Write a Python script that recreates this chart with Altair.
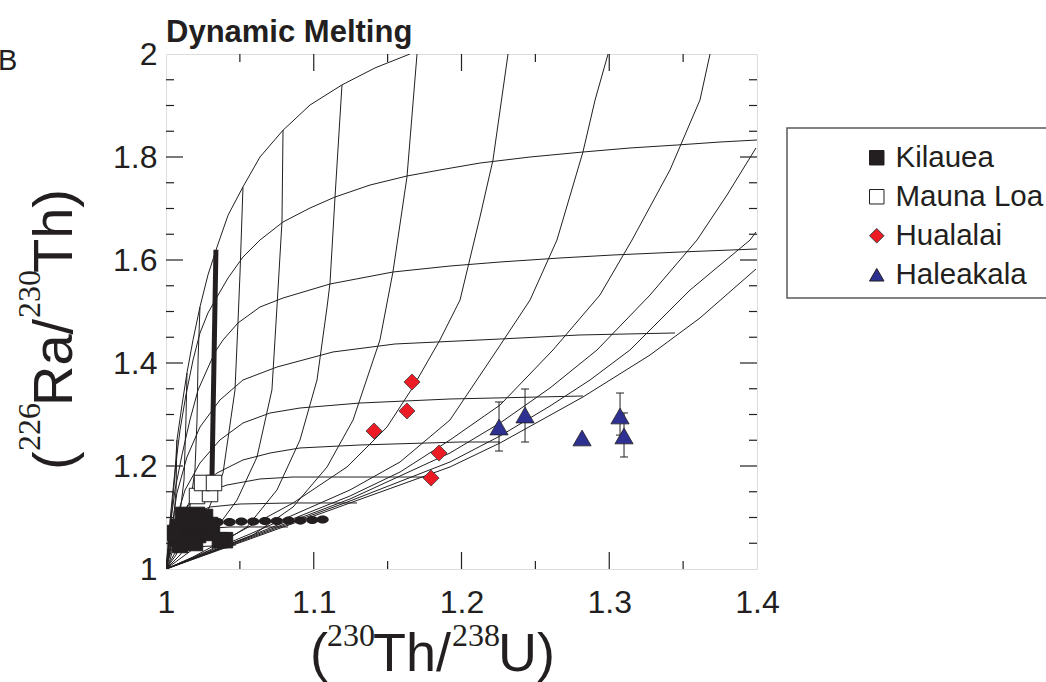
import altair as alt
import pandas as pd

# ---------------- data ----------------
# model grid: "horizontal" family (h) and "vertical" family (v); (230Th/238U, 226Ra/230Th)
h1 = [(1.000, 1.000), (1.0014, 1.027), (1.0027, 1.076), (1.0041, 1.120), (1.0061, 1.183), (1.0074, 1.250),
      (1.0108, 1.318), (1.0142, 1.381), (1.0183, 1.445), (1.0230, 1.509), (1.0284, 1.571), (1.0345, 1.625),
      (1.0420, 1.687), (1.0521, 1.742), (1.0636, 1.800), (1.0792, 1.852), (1.0975, 1.901), (1.1191, 1.940),
      (1.1415, 1.973), (1.1651, 2.000)]
h2 = [(1, 1), (1.0014, 1.0466), (1.0034, 1.1146), (1.0061, 1.1922), (1.0095, 1.2699), (1.0135, 1.3379),
      (1.0183, 1.4058), (1.0230, 1.4583), (1.0284, 1.4971), (1.0345, 1.5282), (1.0420, 1.5650), (1.0521, 1.6058),
      (1.0636, 1.6388), (1.0792, 1.6738), (1.0975, 1.7010), (1.1144, 1.7223), (1.1381, 1.7456), (1.1631, 1.7631),
      (1.1854, 1.7748), (1.2125, 1.7883), (1.2464, 1.8000), (1.2822, 1.8097), (1.3140, 1.8175), (1.3459, 1.8233),
      (1.3750, 1.8291), (1.4, 1.8330)]
h3 = [(1, 1), (1.0014, 1.0408), (1.0034, 1.0951), (1.0061, 1.1534), (1.0108, 1.2214), (1.0162, 1.2893),
      (1.0217, 1.3476), (1.0277, 1.3864), (1.0332, 1.4214), (1.0386, 1.4447), (1.0487, 1.4777), (1.0636, 1.5087),
      (1.0792, 1.5262), (1.1110, 1.5534), (1.1536, 1.5767), (1.1922, 1.5883), (1.2261, 1.5961), (1.2667, 1.6039),
      (1.3025, 1.6097), (1.3479, 1.6155), (1.4, 1.6214)]
h4 = [(1, 1), (1.0027, 1.0563), (1.0074, 1.1476), (1.0142, 1.2175), (1.0230, 1.2757), (1.0365, 1.3282),
      (1.0521, 1.3670), (1.0751, 1.3922), (1.1130, 1.4214), (1.1550, 1.4369), (1.2261, 1.4466), (1.2802, 1.4544),
      (1.3445, 1.4583)]
h5 = [(1, 1), (1.0027, 1.0369), (1.0061, 1.0893), (1.0129, 1.1534), (1.0230, 1.2058), (1.0365, 1.2505),
      (1.0521, 1.2835), (1.0704, 1.3029), (1.0907, 1.3126), (1.1313, 1.3223), (1.1922, 1.3301), (1.2822, 1.3359)]
h6 = [(1, 1), (1.0047, 1.0563), (1.0115, 1.1087), (1.0210, 1.1534), (1.0345, 1.1864), (1.0521, 1.2117),
      (1.0704, 1.2252), (1.0907, 1.2350), (1.1313, 1.2408), (1.1990, 1.2466), (1.2261, 1.2466)]
h7 = [(1, 1), (1.0027, 1.0427), (1.0074, 1.0893), (1.0142, 1.1204), (1.0250, 1.1476), (1.0413, 1.1631),
      (1.0636, 1.1748), (1.0860, 1.1786), (1.1313, 1.1786), (1.1766, 1.1786)]
h8 = [(1, 1), (1.0027, 1.0408), (1.0074, 1.0757), (1.0162, 1.1049), (1.0298, 1.1204), (1.0501, 1.1262),
      (1.0839, 1.1282), (1.1293, 1.1282)]
h9 = [(1, 1), (1.0041, 1.0408), (1.0108, 1.0660), (1.0230, 1.0777), (1.0433, 1.0816), (1.0826, 1.0816)]
h10 = [(1, 1), (1.0061, 1.0311), (1.0162, 1.0427), (1.0474, 1.0466)]

v10 = [(1, 1), (1.0569, 1.0583), (1.1245, 1.1282), (1.1922, 1.1981), (1.2261, 1.2447), (1.2822, 1.3340),
       (1.3276, 1.4155), (1.3614, 1.4874), (1.3993, 1.5825)]
v9 = [(1, 1), (1.0569, 1.0602), (1.1245, 1.1320), (1.1922, 1.2078), (1.2261, 1.2583), (1.2599, 1.3165),
      (1.2870, 1.3670), (1.3140, 1.4252), (1.3547, 1.5417), (1.3953, 1.6388), (1.3993, 1.6544)]
v8 = [(1, 1), (1.0569, 1.0621), (1.1245, 1.1359), (1.1922, 1.2252), (1.2261, 1.2835), (1.2599, 1.3515),
      (1.2917, 1.4252), (1.3276, 1.5320), (1.3594, 1.6388), (1.3797, 1.7262), (1.3993, 1.8175)]
v7 = [(1, 1), (1.0569, 1.0641), (1.1245, 1.1417), (1.1584, 1.1883), (1.1922, 1.2505), (1.2261, 1.3184),
      (1.2619, 1.4252), (1.2937, 1.5320), (1.3154, 1.6388), (1.3411, 1.7748), (1.3614, 1.9107), (1.3682, 2.0)]
v6 = [(1, 1), (1.0569, 1.0680), (1.0907, 1.1107), (1.1245, 1.1534), (1.1584, 1.2078), (1.1922, 1.2893),
      (1.2240, 1.4252), (1.2464, 1.5223), (1.2646, 1.6388), (1.2822, 1.8097), (1.2904, 1.9107), (1.2992, 2.0)]
v5 = [(1, 1), (1.0183, 1.0233), (1.0521, 1.0757), (1.0860, 1.1282), (1.1225, 1.1981), (1.1496, 1.2757),
      (1.1672, 1.3534), (1.1854, 1.4447), (1.1990, 1.5223), (1.2125, 1.6835), (1.2213, 1.7942), (1.2315, 2.0)]
v4 = [(1.1699, 2.0), (1.1631, 1.7612), (1.1536, 1.5767), (1.1448, 1.4447), (1.1266, 1.2893), (1.1090, 1.1981),
      (1.0860, 1.1204), (1.0589, 1.0660), (1.0298, 1.0330), (1, 1)]
v3 = [(1.1191, 1.9398), (1.1144, 1.7223), (1.1110, 1.5553), (1.1090, 1.5087), (1.1022, 1.3670), (1.0907, 1.2505),
      (1.0751, 1.1534), (1.0548, 1.0816), (1.0298, 1.0369), (1, 1)]
v2 = [(1.0792, 1.8524), (1.0785, 1.6738), (1.0751, 1.5087), (1.0717, 1.3476), (1.0616, 1.2175), (1.0481, 1.1340),
      (1.0298, 1.0621), (1.0129, 1.0272), (1, 1)]
v1 = [(1.0521, 1.7417), (1.0501, 1.5748), (1.0487, 1.4777), (1.0467, 1.3476), (1.0386, 1.1864), (1.0250, 1.0893),
      (1.0095, 1.0272), (1, 1)]
v0 = [(1.0230, 1.5087), (1.0217, 1.4058), (1.0210, 1.2893), (1.0196, 1.1922), (1.0149, 1.0951), (1.0068, 1.0272),
      (1, 1)]
vm1 = [(1.0142, 1.3806), (1.0135, 1.2893), (1.0122, 1.1728), (1.0081, 1.0757), (1.0027, 1.0175), (1, 1)]
vm2 = [(1.0074, 1.2505), (1.0068, 1.1534), (1.0047, 1.0757), (1.0014, 1.0175), (1, 1)]

# Kilauea
kil_x = [1.0115, 1.0210, 1.0162, 1.0264, 1.0081, 1.0176, 1.0271, 1.0066, 1.0129, 1.0217, 1.0311, 1.0399,
         1.0365, 1.0095, 1.0196, 1.0062, 1.0230, 1.0298]
kil_y = [1.105, 1.105, 1.095, 1.101, 1.0816, 1.0796, 1.0816, 1.060, 1.062, 1.066, 1.070, 1.056,
         1.056, 1.0466, 1.0505, 1.070, 1.089, 1.0854]
kil_bar_x = [1.0338, 1.0311]
kil_bar_y = [1.620, 1.175]
kil_dots_x = [1.035, 1.043, 1.051, 1.059, 1.067, 1.075, 1.083, 1.091, 1.099, 1.106]
kil_dots_y = [1.091, 1.091, 1.092, 1.092, 1.093, 1.093, 1.094, 1.094, 1.095, 1.096]
# Mauna Loa
ml_x = [1.0210, 1.0298, 1.0244, 1.0325]
ml_y = [1.1417, 1.1456, 1.1670, 1.1670]
# Hualalai
hu_x = [1.1665, 1.1631, 1.1408, 1.1848, 1.1794]
hu_y = [1.3631, 1.3068, 1.2680, 1.2252, 1.1767]
# Haleakala
ha_x = [1.2254, 1.2430, 1.2816, 1.3073, 1.3100]
ha_y = [1.2757, 1.2990, 1.2544, 1.2971, 1.2583]
err_x = [1.2254, 1.2430, 1.3073, 1.3100]
err_lo = [1.2291, 1.2466, 1.2600, 1.2175]
err_hi = [1.3243, 1.3495, 1.3417, 1.3030]

sites = ["Kilauea", "Mauna Loa", "Hualalai", "Haleakala"]
x_labels = [1, 1.1, 1.2, 1.3, 1.4]
y_labels = [1, 1.2, 1.4, 1.6, 1.8, 2]
x_major = [1.1, 1.2, 1.3]
x_minor = [1.05, 1.15, 1.25, 1.35]
y_major = [1.2, 1.4, 1.6, 1.8]
y_minor = [1.05, 1.1, 1.15, 1.25, 1.3, 1.35, 1.45, 1.5, 1.55, 1.65, 1.7, 1.75, 1.85, 1.9, 1.95]

# ---------------- layout ----------------
W, H = 591, 515
INK = "#231f20"
FONT = "Liberation Sans"
NARROW = "Liberation Sans Narrow"

curves = {"h1": h1, "h2": h2, "h3": h3, "h4": h4, "h5": h5, "h6": h6, "h7": h7, "h8": h8, "h9": h9,
          "h10": h10, "v10": v10, "v9": v9, "v8": v8, "v7": v7, "v6": v6, "v5": v5, "v4": v4, "v3": v3,
          "v2": v2, "v1": v1, "v0": v0, "vm1": vm1, "vm2": vm2}
rows = []
for name, pts in curves.items():
    for i, (xv, yv) in enumerate(pts):
        rows.append({"curve": name, "i": i, "x": xv, "y": yv})
grid_df = pd.DataFrame(rows)

xs = alt.Scale(domain=[1, 1.4], nice=False, zero=False)
ys = alt.Scale(domain=[1, 2], nice=False, zero=False)
x_axis = alt.Axis(values=x_labels, format="~g", ticks=False, domain=False, grid=False, labelFlush=False,
                  labelOverlap=False, labelFontSize=32, labelFont=FONT, labelColor=INK, labelPadding=18,
                  title=None)
y_axis = alt.Axis(values=y_labels, format="~g", ticks=False, domain=False, grid=False, labelFlush=False,
                  labelOverlap=False, labelFontSize=32, labelFont=FONT, labelColor=INK, labelPadding=9,
                  title=None)


def X(field="x"):
    return alt.X(f"{field}:Q", scale=xs, axis=x_axis)


def Y(field="y"):
    return alt.Y(f"{field}:Q", scale=ys, axis=y_axis)


grid = alt.Chart(grid_df).mark_line(color=INK, strokeWidth=1.0, clip=True).encode(
    x=X(), y=Y(), detail="curve:N", order="i:Q")

bar = alt.Chart(pd.DataFrame({"x": kil_bar_x, "y": kil_bar_y})).mark_line(
    color=INK, strokeWidth=5).encode(x=X(), y=Y())

ellipse = "M-1,0 A1,0.66 0 1,1 1,0 A1,0.66 0 1,1 -1,0 Z"
dots = alt.Chart(pd.DataFrame({"x": kil_dots_x, "y": kil_dots_y})).mark_point(
    shape=ellipse, filled=True, color=INK, size=150, opacity=1).encode(x=X(), y=Y())

err_df = pd.DataFrame({"x": err_x, "lo": err_lo, "hi": err_hi})
err = alt.Chart(err_df).mark_rule(color=INK, strokeWidth=1).encode(x=X(), y=Y("lo"), y2="hi:Q")
caps_df = pd.DataFrame({"x": err_x + err_x, "y": err_lo + err_hi})
caps = alt.Chart(caps_df).mark_point(shape="M-1,0L1,0", filled=False, color=INK, strokeWidth=1,
                                     size=64, opacity=1).encode(x=X(), y=Y())

pts_rows = []
for site, xl, yl in [("Kilauea", kil_x, kil_y), ("Mauna Loa", ml_x, ml_y),
                     ("Hualalai", hu_x, hu_y), ("Haleakala", ha_x, ha_y)]:
    for xv, yv in zip(xl, yl):
        pts_rows.append({"site": site, "x": xv, "y": yv})
pts_df = pd.DataFrame(pts_rows)

legend = alt.Legend(title=None, orient="none", legendX=696, legendY=89, padding=0,
                    labelFontSize=29.5, labelFont=FONT, labelColor=INK, symbolSize=210,
                    symbolStrokeColor=INK, symbolStrokeWidth=1, labelOffset=4, rowPadding=8)
shape_enc = alt.Shape("site:N", scale=alt.Scale(domain=sites, range=["square", "square", "diamond", "triangle-up"]),
                      legend=legend)
fill_enc = alt.Fill("site:N", scale=alt.Scale(domain=sites, range=[INK, "#ffffff", "#ed1c24", "#2e3192"]),
                    legend=legend)
stroke_enc = alt.Stroke("site:N", scale=alt.Scale(domain=sites, range=[INK, INK, "#3a3a3a", INK]),
                        legend=legend)

base_pts = alt.Chart(pts_df).encode(x=X(), y=Y(), shape=shape_enc, fill=fill_enc, stroke=stroke_enc)
squares = base_pts.transform_filter(
    alt.FieldOneOfPredicate(field="site", oneOf=["Kilauea", "Mauna Loa"])
).mark_point(filled=True, strokeWidth=1, size=240, opacity=1)
diamonds = base_pts.transform_filter(
    alt.FieldEqualPredicate(field="site", equal="Hualalai")
).mark_point(filled=True, strokeWidth=0.8, size=260, opacity=1)
triangles = base_pts.transform_filter(
    alt.FieldEqualPredicate(field="site", equal="Haleakala")
).mark_point(filled=True, strokeWidth=0.8, size=330, opacity=1)

# inward ticks (frame ticks on all four sides)
xmaj = pd.DataFrame({"x": x_major})
xmin = pd.DataFrame({"x": x_minor})
ymaj = pd.DataFrame({"y": y_major})
ymin = pd.DataFrame({"y": y_minor})
tick_layers = []
for df, L in [(xmaj, 17), (xmin, 8)]:
    tick_layers.append(alt.Chart(df).mark_rule(color=INK, strokeWidth=1.2).encode(
        x=X(), y=alt.value(H), y2=alt.value(H - L)))
    tick_layers.append(alt.Chart(df).mark_rule(color=INK, strokeWidth=1.2).encode(
        x=X(), y=alt.value(0), y2=alt.value(L)))
for df, L in [(ymaj, 17), (ymin, 8)]:
    tick_layers.append(alt.Chart(df).mark_rule(color=INK, strokeWidth=1.2).encode(
        y=Y(), x=alt.value(0), x2=alt.value(L)))
    tick_layers.append(alt.Chart(df).mark_rule(color=INK, strokeWidth=1.2).encode(
        y=Y(), x=alt.value(W), x2=alt.value(W - L)))

# legend frame
legend_box = alt.Chart(pd.DataFrame({"k": [0]})).mark_rect(
    fill="transparent", stroke="#58595b", strokeWidth=1.5).encode(
    x=alt.value(621), x2=alt.value(910), y=alt.value(74), y2=alt.value(244))


def txt(text, x, y, size, weight="normal", angle=0, font=FONT):
    return alt.Chart(pd.DataFrame({"t": [text]})).mark_text(
        align="left", baseline="alphabetic", fontSize=size, fontWeight=weight, font=font,
        color=INK, angle=angle).encode(text="t:N", x=alt.value(x), y=alt.value(y))


title = txt("Dynamic Melting", 0, -12, 31, weight="bold")
panel = txt("B", -168, 16, 29)

# x axis title: (230Th/238U)
xt = [txt("(", 144, 617, 54), txt("230", 161, 592, 32, font=NARROW), txt("Th/", 207, 617, 54),
      txt("238", 286, 592, 32, font=NARROW), txt("U)", 332, 617, 54)]
# y axis title: (226Ra/230Th), rotated
yt = [txt("(", -94, 416, 56, angle=270), txt("226", -126, 397, 32, angle=270, font=NARROW),
      txt("Ra/", -94, 352, 56, angle=270), txt("230", -126, 264, 32, angle=270, font=NARROW),
      txt("Th)", -94, 219, 56, angle=270)]

chart = alt.layer(
    grid, bar, dots, err, caps, squares, diamonds, triangles, *tick_layers, legend_box, title, panel, *xt, *yt
).properties(
    width=W, height=H,
    padding={"left": 166, "top": 54, "right": 1046 - 166 - W, "bottom": 682 - 54 - H},
    autosize=alt.AutoSizeParams(type="none"),
).configure_view(stroke=INK, strokeWidth=1.2).configure(background="white")

chart.save("out.html", embed_options={"renderer": "svg", "actions": False})
